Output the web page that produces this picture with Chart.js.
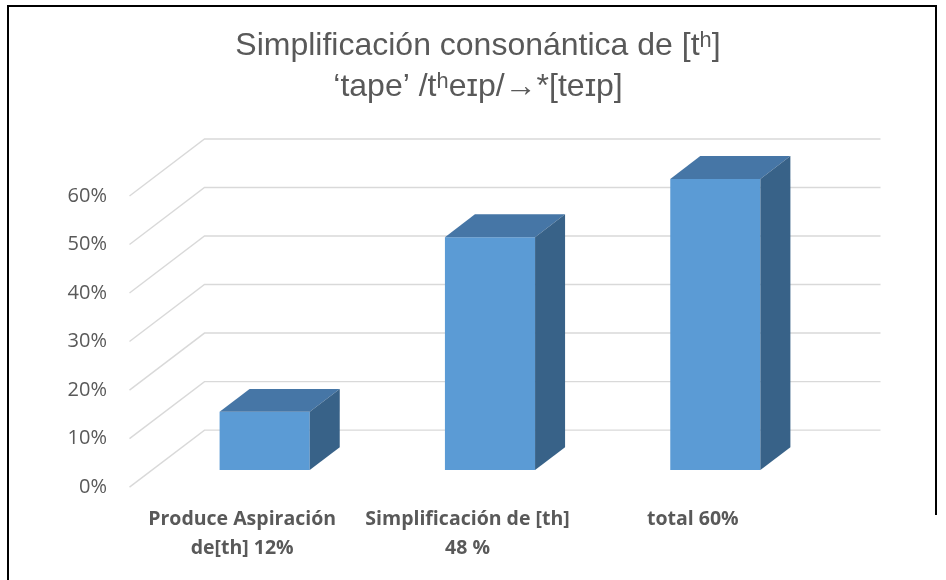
<!DOCTYPE html>
<html>
<head>
<meta charset="utf-8">
<script src="https://cdn.jsdelivr.net/npm/chart.js@4"></script>
<style>
  html, body { margin: 0; padding: 0; background: #ffffff; }
  canvas { display: block; }
</style>
</head>
<body>
<canvas id="chart" width="946" height="580"></canvas>
<script>
// Chart content
const titleLines = ['Simplificación consonántica de [tʰ]', '‘tape’ /tʰeɪp/→*[teɪp]'];
const categories = [
  ['Produce Aspiración', 'de[th] 12%'],
  ['Simplificación de [th]', '48 %'],
  ['total 60%']
];
const shares = [0.12, 0.48, 0.60];
const axisMax = 0.6;
const axisStep = 0.1;

// Oblique depth of the floor (pixels), where the bars sit in it, and bar thickness
const DEPTH_X = 75, DEPTH_Y = -57;
const BAR_FRONT = 0.3;   // fraction of the depth in front of the bars
const BAR_DEPTH = 0.4;   // fraction of the depth taken by each bar

const GREY = '#595959';
const FRONT_BLUE = '#5b9bd5';
const TOP_BLUE = '#4676a6';
const SIDE_BLUE = '#386288';

const frame = {
  id: 'frame',
  beforeDraw(chart) {
    const { ctx, width, height } = chart;
    ctx.save();
    ctx.fillStyle = '#ffffff';
    ctx.fillRect(0, 0, width, height);
    ctx.restore();
  },
  afterDraw(chart) {
    const { ctx, height } = chart;
    ctx.save();
    ctx.fillStyle = '#000000';
    ctx.fillRect(7, 5, 2, height - 5);
    ctx.fillRect(7, 5, 930, 2);
    ctx.fillRect(935, 5, 2, 510);
    ctx.restore();
  }
};

const depth3d = {
  id: 'depth3d',
  beforeDatasetsDraw(chart) {
    // side wall and back wall gridlines for every value tick
    const { ctx, chartArea: { left, right }, scales: { y } } = chart;
    const fx = -BAR_FRONT * DEPTH_X, fy = -BAR_FRONT * DEPTH_Y;
    const bx = (1 - BAR_FRONT) * DEPTH_X, by = (1 - BAR_FRONT) * DEPTH_Y;
    ctx.save();
    ctx.strokeStyle = '#d9d9d9';
    ctx.lineWidth = 1.4;
    y.ticks.forEach(t => {
      const py = y.getPixelForValue(t.value);
      ctx.beginPath();
      ctx.moveTo(left + fx, py + fy);
      ctx.lineTo(left + bx, py + by);
      ctx.lineTo(right + bx, py + by);
      ctx.stroke();
    });
    ctx.restore();
  },
  afterDatasetsDraw(chart) {
    // top and side faces of each bar
    const { ctx } = chart;
    const dx = BAR_DEPTH * DEPTH_X, dy = BAR_DEPTH * DEPTH_Y;
    ctx.save();
    chart.getDatasetMeta(0).data.forEach(bar => {
      const { x, y, base, width } = bar.getProps(['x', 'y', 'base', 'width'], true);
      const l = x - width / 2, r = x + width / 2;
      ctx.fillStyle = TOP_BLUE;
      ctx.beginPath();
      ctx.moveTo(l, y);
      ctx.lineTo(l + dx, y + dy);
      ctx.lineTo(r + dx, y + dy);
      ctx.lineTo(r, y);
      ctx.closePath();
      ctx.fill();
      ctx.fillStyle = SIDE_BLUE;
      ctx.beginPath();
      ctx.moveTo(r, y);
      ctx.lineTo(r + dx, y + dy);
      ctx.lineTo(r + dx, base + dy);
      ctx.lineTo(r, base);
      ctx.closePath();
      ctx.fill();
    });
    ctx.restore();
  }
};

new Chart(document.getElementById('chart'), {
  type: 'bar',
  data: {
    labels: categories,
    datasets: [{
      data: shares,
      backgroundColor: FRONT_BLUE,
      borderWidth: 0,
      barPercentage: 0.4,
      categoryPercentage: 1.0
    }]
  },
  options: {
    responsive: false,
    animation: false,
    layout: { padding: { left: 10, right: 0, top: 0, bottom: 0 } },
    plugins: {
      legend: { display: false },
      tooltip: { enabled: false },
      title: {
        display: true,
        text: titleLines,
        color: GREY,
        font: { family: "'Liberation Sans', Arial, sans-serif", size: 32, weight: 'normal', lineHeight: 1.28 },
        padding: { top: 26, bottom: 71 }
      }
    },
    scales: {
      x: {
        grid: { display: false, drawTicks: false },
        border: { display: false },
        afterFit(scale) { scale.height = 110; },
        ticks: {
          color: GREY,
          font: { family: "'Open Sans', sans-serif", size: 19.5, weight: 'bold', lineHeight: 1.49 },
          padding: 34.5,
          labelOffset: -BAR_FRONT * DEPTH_X,
          autoSkip: false,
          maxRotation: 0,
          minRotation: 0
        }
      },
      y: {
        min: 0,
        max: axisMax,
        grid: { display: false, drawTicks: false },
        border: { display: false },
        afterFit(scale) { scale.width = 142; },
        ticks: {
          stepSize: axisStep,
          color: GREY,
          font: { family: "'Open Sans', sans-serif", size: 20 },
          padding: 45,
          labelOffset: -BAR_FRONT * DEPTH_Y,
          callback: v => Math.round(v * 100) + '%'
        }
      },
      // empty axis on the right that leaves room for the back wall
      yRight: {
        position: 'right',
        min: 0,
        max: axisMax,
        grid: { display: false, drawTicks: false },
        border: { display: false },
        ticks: { display: false },
        afterFit(scale) { scale.width = 118; }
      }
    }
  },
  plugins: [frame, depth3d]
});
</script>
</body>
</html>
